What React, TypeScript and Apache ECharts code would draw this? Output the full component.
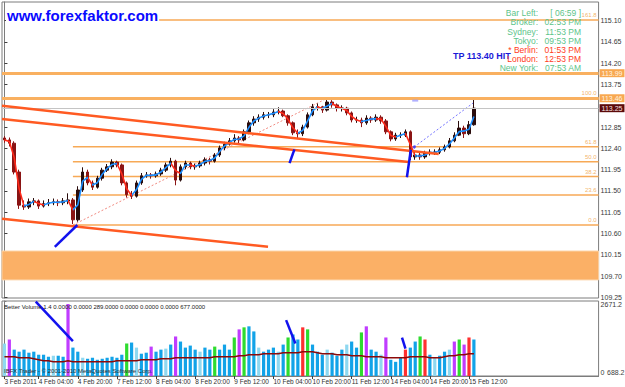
import React, { useEffect, useRef } from "react";
import * as echarts from "echarts";

// ---- time axis (2-hour slots) ----
const slotCount = 122;
const timeLabels = ["3 Feb 2011", "4 Feb 04:00", "4 Feb 20:00", "7 Feb 12:00", "8 Feb 04:00", "8 Feb 20:00", "9 Feb 12:00", "10 Feb 04:00", "10 Feb 20:00", "11 Feb 12:00", "14 Feb 04:00", "14 Feb 20:00", "15 Feb 12:00"];
const labelSlots = [0, 7, 15, 23, 31, 39, 47, 55, 63, 71, 79, 87, 95];

// ---- price axis ----
const priceMin = 109.237;
const priceMax = 115.495;
const priceTicks = [109.25, 109.7, 110.15, 110.6, 111.05, 111.5, 111.95, 112.4, 112.85, 113.75, 114.2, 114.65, 115.1];

// ---- price bars ----
const firstOpen = 112.62;
const closes = [112.58, 112.51, 111.90, 111.20, 111.16, 111.27, 111.29, 111.18, 111.23, 111.25,
  111.27, 111.25, 111.29, 111.31, 110.89, 111.52, 111.90, 111.67, 111.58, 111.77,
  111.94, 112.01, 112.11, 112.05, 111.67, 111.42, 111.39, 111.67, 111.82, 111.84,
  111.82, 111.86, 111.94, 112.05, 112.13, 111.73, 112.01, 112.09, 112.01, 112.03,
  112.09, 112.16, 112.13, 112.26, 112.41, 112.49, 112.56, 112.62, 112.58, 112.75,
  112.94, 113.02, 113.06, 113.11, 113.11, 113.17, 113.19, 113.09, 112.94, 112.73,
  112.71, 112.85, 113.11, 113.28, 113.28, 113.21, 113.38, 113.32, 113.25, 113.25,
  113.15, 113.00, 113.00, 112.94, 113.04, 113.00, 113.06, 112.98, 112.75, 112.60,
  112.68, 112.68, 112.75, 112.22, 112.26, 112.22, 112.30, 112.32, 112.32, 112.37,
  112.43, 112.56, 112.68, 112.83, 112.71, 112.90, 113.25];
const highs = [112.66, 112.63, 112.55, 111.95, 111.30, 111.34, 111.35, 111.32, 111.30, 111.33,
  111.34, 111.32, 111.35, 111.45, 111.35, 111.60, 112.00, 111.95, 111.72, 111.82,
  111.99, 112.07, 112.17, 112.14, 112.08, 111.70, 111.50, 111.72, 111.88, 111.90,
  111.88, 111.91, 111.99, 112.10, 112.20, 112.16, 112.06, 112.14, 112.12, 112.08,
  112.14, 112.21, 112.20, 112.30, 112.46, 112.54, 112.62, 112.70, 112.66, 112.80,
  112.99, 113.08, 113.12, 113.17, 113.17, 113.23, 113.27, 113.22, 113.12, 112.97,
  112.80, 112.90, 113.16, 113.34, 113.35, 113.30, 113.46, 113.42, 113.35, 113.31,
  113.28, 113.18, 113.07, 113.05, 113.10, 113.08, 113.12, 113.10, 113.02, 112.78,
  112.73, 112.74, 112.80, 112.78, 112.34, 112.32, 112.35, 112.38, 112.38, 112.42,
  112.48, 112.62, 112.74, 112.98, 112.88, 112.98, 113.44];
const lows = [112.52, 112.44, 111.85, 111.12, 111.10, 111.12, 111.20, 111.12, 111.15, 111.18,
  111.20, 111.18, 111.20, 111.22, 110.80, 110.85, 111.48, 111.62, 111.52, 111.55,
  111.72, 111.90, 111.96, 112.00, 111.62, 111.36, 111.33, 111.36, 111.63, 111.78,
  111.76, 111.78, 111.82, 111.90, 112.00, 111.62, 111.70, 111.96, 111.96, 111.95,
  111.99, 112.04, 112.06, 112.10, 112.22, 112.36, 112.46, 112.52, 112.50, 112.55,
  112.70, 112.88, 112.96, 113.01, 113.04, 113.06, 113.12, 113.06, 112.88, 112.68,
  112.62, 112.66, 112.82, 113.08, 113.20, 113.15, 113.18, 113.26, 113.18, 113.18,
  113.10, 112.95, 112.94, 112.85, 112.90, 112.94, 112.96, 112.92, 112.70, 112.55,
  112.56, 112.62, 112.64, 112.15, 112.16, 112.16, 112.18, 112.25, 112.26, 112.28,
  112.33, 112.40, 112.53, 112.66, 112.62, 112.68, 112.88];

// ---- horizontal levels ----
const bidPrice = 113.25;
const targetLines = [113.99, 113.46];
const zoneTop = 110.23;
const zoneBottom = 109.62;
const fibLow = 110.78;
const fibHigh = 113.46;
const fibStartSlot = 14;
const fibEndSlot = 66;
const fibRatios = [0, 23.6, 38.2, 50, 61.8, 100, 161.8];
const fibNames = ["0.0", "23.6", "38.2", "50.0", "61.8", "100.0", "161.8"];

// ---- drawn lines [slot, price] ----
const channelLines = [
  [[-0.5, 113.30], [88.8, 112.28]],
  [[-0.5, 113.02], [82.7, 112.11]],
  [[-0.5, 110.91], [53.9, 110.32]],
];
const arrowLinesPrice = [
  [[10.3, 110.32], [14.9, 110.78]],
  [[58.3, 112.09], [59.3, 112.38]],
  [[82.3, 111.79], [83.1, 112.37]],
];
const blueProjection = [[83.8, 112.43], [96.1, 113.38]];
const markerPoint = [84.0, 113.41];

// ---- volume ----
const volumeMax = 2671.2;
const volumes = [1155, 1300, 939, 866, 939, 830, 866, 758, 758, 686,
  722, 722, 686, 2563, 1011, 866, 650, 614, 650, 578,
  614, 650, 686, 650, 758, 1155, 1191, 1011, 794, 830,
  1047, 866, 939, 975, 1119, 1408, 1227, 1011, 1083, 939,
  866, 1011, 939, 1047, 939, 1119, 939, 1372, 1661, 1733,
  1769, 1588, 1011, 866, 939, 1011, 866, 1119, 1372, 1480,
  1300, 1733, 1661, 1119, 866, 758, 939, 830, 722, 939,
  1119, 1227, 1011, 1552, 1769, 939, 866, 758, 1372, 578,
  505, 650, 939, 1011, 1227, 1408, 1300, 758, 650, 722,
  866, 939, 1227, 1300, 1119, 1372, 1300];
const volumeKinds = "cmnnnnnnnn" + "cnnmnncnnn" + "nnnnngncnn" + "mnncnmnnnn" + "cnngnnngmg" + "nncnnncngn" + "nrgnnncnnn" + "cnngmnncmn" + "nnrnngrncn" + "ncmgmrn";
const volumeMA = [686, 686, 686, 650, 650, 650, 614, 578, 542, 542,
  505, 505, 505, 542, 505, 505, 505, 505, 505, 505,
  505, 505, 505, 542, 542, 542, 542, 542, 578, 578,
  578, 578, 614, 614, 614, 650, 650, 650, 650, 650,
  650, 650, 650, 686, 686, 686, 686, 686, 722, 722,
  758, 758, 758, 794, 794, 794, 794, 830, 830, 830,
  830, 866, 866, 866, 830, 794, 794, 794, 758, 758,
  758, 722, 722, 722, 686, 686, 686, 686, 650, 650,
  650, 650, 650, 686, 686, 686, 686, 650, 650, 650,
  686, 722, 722, 758, 758, 794, 794];
const arrowLinesVolume = [
  [[6.4, 2650], [14.0, 1240]],
  [[57.6, 1990], [59.5, 1155]],
  [[81.3, 1370], [82.0, 975]],
];

// ---- texts ----
const infoNames = ["Bar Left:", "Broker:", "Sydney:", "Tokyo:", "* Berlin:", "London:", "New York:"];
const infoValues = ["[ 06:59 ]", "02:53 PM", "11:53 PM", "09:53 PM", "01:53 PM", "12:53 PM", "07:53 AM"];
const infoRed = [false, false, false, false, true, true, false];
const siteText = "www.forexfaktor.com";
const tpText = "TP 113.40 HIT";
const volumeTitle = "Better Volume 1.4 0.0000 0.0000 289.0000 0.0000 0.0000 0.0000 677.0000";
const copyrightText = "IBFX Trader - \u00a9 2001-2010 MetaQuotes Software Corp.";

const FONT = "'Liberation Sans Narrow', 'Liberation Sans', Arial, sans-serif";
const BLUE_MA = "#1e8fff";
const RED_MA = "#ff2a1a";
const FIB = "#f7a956";
const kindColor: Record<string, string> = {
  n: "#12a3e8", c: "#8fd8f0", m: "#c03cff", g: "#2fdc2f", r: "#ff3030", y: "#f2f000",
};

export default function App() {
  const ref = useRef<HTMLDivElement>(null);
  useEffect(() => {
    if (!ref.current) return;
    const chart = echarts.init(ref.current, undefined, { renderer: "svg" });
    const slots = Array.from({ length: slotCount }, (_, i) => String(i));
    const ma = closes.map((c, i) => (i === 0 ? c : (c + closes[i - 1]) / 2));
    const pieces: any[] = [{ lte: 0, color: RED_MA }];
    for (let i = 1; i < ma.length; i++) {
      pieces.push({ gt: i - 1, lte: i, color: ma[i] >= ma[i - 1] ? BLUE_MA : RED_MA });
    }
    pieces.push({ gt: ma.length - 1, color: BLUE_MA });
    const fibPrice = (r: number) => fibLow + ((fibHigh - fibLow) * r) / 100;
    const slotLabel = (v: any) => {
      const k = labelSlots.indexOf(Number(v));
      return k >= 0 ? timeLabels[k] : "";
    };

    const lineSeries = (data: number[][], color: string, width: number, xi: number, yi: number, z: number, type: any = "solid") => ({
      type: "line", xAxisIndex: xi, yAxisIndex: yi, data, symbol: "none", silent: true, z,
      lineStyle: { color, width, type }, animation: false,
    });

    const series: any[] = [
      {
        type: "candlestick", xAxisIndex: 0, yAxisIndex: 0, z: 3, barWidth: 3,
        data: closes.map((c, i) => [i === 0 ? firstOpen : closes[i - 1], c, lows[i], highs[i]]),
        itemStyle: { color: "#2a0c0c", color0: "#8a1414", borderColor: "#2a0c0c", borderColor0: "#8a1414", borderWidth: 1 },
        markArea: {
          silent: true,
          itemStyle: { color: "#fbb066", borderColor: "#fcd2a4", borderWidth: 1 },
          data: [[{ yAxis: zoneTop }, { yAxis: zoneBottom }]],
        },
        markLine: {
          silent: true, symbol: ["none", "none"], animation: false,
          data: [
            {
              yAxis: bidPrice, lineStyle: { color: "#c4c4c4", width: 1, type: "solid" },
              label: { position: "end", distance: 1, formatter: bidPrice.toFixed(2), backgroundColor: "#5c0a0a", color: "#f4e0e0", fontSize: 7, fontFamily: FONT, padding: [1, 2, 0, 2] },
            },
            ...targetLines.map((p) => ({
              yAxis: p, lineStyle: { color: "#f9b060", width: 3, type: "solid" },
              label: { position: "end", distance: 1, formatter: p.toFixed(2), backgroundColor: "#f8a850", color: "#fff4e0", fontSize: 7, fontFamily: FONT, padding: [1, 2, 0, 2] },
            })),
          ],
        },
      },
      {
        type: "line", xAxisIndex: 0, yAxisIndex: 0, z: 4, data: ma, symbol: "none", silent: true,
        lineStyle: { width: 1.6 },
      },
    ];

    fibRatios.forEach((r) => {
      series.push(lineSeries([[fibStartSlot, fibPrice(r)], [slotCount - 0.5, fibPrice(r)]], FIB, 1.5, 2, 0, 1));
    });
    series.push({
      type: "scatter", xAxisIndex: 2, yAxisIndex: 0, symbolSize: 0, silent: true, z: 2,
      data: fibRatios.map((r, i) => [slotCount - 0.9, fibPrice(r), fibNames[i]]),
      label: { show: true, position: "left", distance: 0, offset: [0, -5], formatter: (p: any) => p.data[2], color: "#f0a040", fontSize: 6, fontFamily: FONT },
    });
    series.push(lineSeries([[fibStartSlot, fibLow], [fibEndSlot, fibHigh]], "#f08a80", 1, 2, 0, 2, [2, 2]));
    series.push(lineSeries(blueProjection, "#7474ff", 1, 2, 0, 2, [2, 2]));
    series.push({
      type: "scatter", xAxisIndex: 2, yAxisIndex: 0, silent: true, z: 6,
      data: [blueProjection[0]], symbol: "diamond", symbolSize: 4, itemStyle: { color: "#3030ff" },
    });
    series.push({
      type: "scatter", xAxisIndex: 2, yAxisIndex: 0, silent: true, z: 6,
      data: [markerPoint], symbol: "rect", symbolSize: [6, 2], itemStyle: { color: "#9c9cff" },
    });
    channelLines.forEach((l) => series.push(lineSeries(l, "#ff5a22", 2.5, 2, 0, 5)));
    arrowLinesPrice.forEach((l) => series.push(lineSeries(l, "#1212ee", 2.5, 2, 0, 6)));

    series.push({
      type: "bar", xAxisIndex: 1, yAxisIndex: 1, barWidth: 3.2, silent: true, z: 2,
      data: volumes.map((v, i) => ({ value: v, itemStyle: { color: kindColor[volumeKinds[i]] } })),
    });
    series.push(lineSeries(volumeMA.map((v, i) => [i, v]), "#8c0a0a", 1.5, 3, 1, 4));
    arrowLinesVolume.forEach((l) => series.push(lineSeries(l, "#1212ee", 2.5, 3, 1, 6)));

    const graphic: any[] = [
      {
        type: "text", x: 6, y: 15, z: 50,
        style: { text: siteText, fill: "#0a0aff", font: `bold 15px 'Liberation Sans', Arial, sans-serif`, align: "left", verticalAlign: "middle", textAlign: "left", textVerticalAlign: "middle", backgroundColor: "#ffffff", padding: [0, 1] },
      },
      {
        type: "text", x: 453, y: 56, z: 50,
        style: { text: tpText, fill: "#1a1ad8", font: `bold 9px 'Liberation Sans', Arial, sans-serif`, align: "left", verticalAlign: "middle", textAlign: "left", textVerticalAlign: "middle" },
      },
      {
        type: "text", x: 4, y: 307, z: 50,
        style: { text: volumeTitle, fill: "#202020", font: `6px ${FONT}`, align: "left", verticalAlign: "middle", textAlign: "left", textVerticalAlign: "middle" },
      },
      {
        type: "text", x: 4, y: 371, z: 50,
        style: { text: copyrightText, fill: "#303030", font: `6px ${FONT}`, align: "left", verticalAlign: "middle", textAlign: "left", textVerticalAlign: "middle" },
      },
      {
        type: "text", x: 607, y: 372, z: 50,
        style: { text: "688.2", fill: "#404040", font: `7px ${FONT}`, align: "left", verticalAlign: "middle", textAlign: "left", textVerticalAlign: "middle" },
      },
    ];
    infoNames.forEach((n, i) => {
      const y = 13.3 + i * 9.15;
      const fill = infoRed[i] ? "#ff3a1a" : "#5cc48a";
      graphic.push({ type: "text", x: 538, y, z: 50, style: { text: n, fill, font: `8.5px 'Liberation Sans', Arial, sans-serif`, align: "right", verticalAlign: "middle", textAlign: "right", textVerticalAlign: "middle" } });
      graphic.push({ type: "text", x: 581, y, z: 50, style: { text: infoValues[i], fill, font: `8.5px 'Liberation Sans', Arial, sans-serif`, align: "right", verticalAlign: "middle", textAlign: "right", textVerticalAlign: "middle" } });
    });

    const axisGray = "#7c7c7c";
    const option: any = {
      animation: false,
      backgroundColor: "#ffffff",
      grid: [
        { left: 2, top: 2, width: 601, height: 296, show: true, borderColor: axisGray, borderWidth: 1, backgroundColor: "transparent" },
        { left: 2, top: 301, width: 601, height: 75, show: true, borderColor: axisGray, borderWidth: 1, backgroundColor: "transparent" },
      ],
      xAxis: [
        { type: "category", gridIndex: 0, data: slots, boundaryGap: true, axisLine: { show: false }, axisTick: { show: false }, axisLabel: { show: false }, splitLine: { show: false } },
        {
          type: "category", gridIndex: 1, data: slots, boundaryGap: true,
          axisLine: { show: true, lineStyle: { color: axisGray } },
          axisTick: { show: true, alignWithLabel: true, interval: (i: number) => labelSlots.includes(i), length: 3, lineStyle: { color: "#404040" } },
          axisLabel: {
            show: true, interval: (i: number) => labelSlots.includes(i), showMinLabel: true, showMaxLabel: true, hideOverlap: false,
            align: "left", margin: 2, fontSize: 6.5, fontFamily: FONT, color: "#303030", formatter: (v: any) => slotLabel(v),
          },
          splitLine: { show: false },
        },
        { type: "value", gridIndex: 0, min: -0.5, max: slotCount - 0.5, show: false, position: "top" },
        { type: "value", gridIndex: 1, min: -0.5, max: slotCount - 0.5, show: false, position: "top" },
      ],
      yAxis: [
        {
          type: "value", gridIndex: 0, position: "right", min: priceMin, max: priceMax, scale: true,
          axisLine: { show: true, lineStyle: { color: axisGray } },
          axisTick: { show: true, length: 3, customValues: priceTicks, lineStyle: { color: "#404040" } },
          axisLabel: { show: true, customValues: priceTicks, margin: 2, fontSize: 7, fontFamily: FONT, color: "#383838", formatter: (v: number) => v.toFixed(2) },
          splitLine: { show: false },
        },
        {
          type: "value", gridIndex: 1, position: "right", min: 0, max: volumeMax,
          axisLine: { show: true, lineStyle: { color: axisGray } },
          axisTick: { show: true, length: 2, customValues: [0, volumeMax] },
          axisLabel: {
            show: true, customValues: [0, volumeMax], margin: 2, fontSize: 7, fontFamily: FONT, color: "#383838",
            formatter: (v: number) => (v > 0 ? `{t|${v.toFixed(1)}}` : `{b|0}`),
            rich: { t: { padding: [7, 0, 0, 0], fontSize: 7, fontFamily: FONT, color: "#383838" }, b: { padding: [0, 0, 7, 0], fontSize: 7, fontFamily: FONT, color: "#383838" } },
          },
          splitLine: { show: false },
        },
      ],
      visualMap: [{ type: "piecewise", show: false, dimension: 0, seriesIndex: 1, pieces }],
      series,
      graphic,
    };
    chart.setOption(option);
    return () => chart.dispose();
  }, []);
  return <div ref={ref} style={{ position: "fixed", left: 0, top: 0, width: 625, height: 387, background: "#fff" }} />;
}
